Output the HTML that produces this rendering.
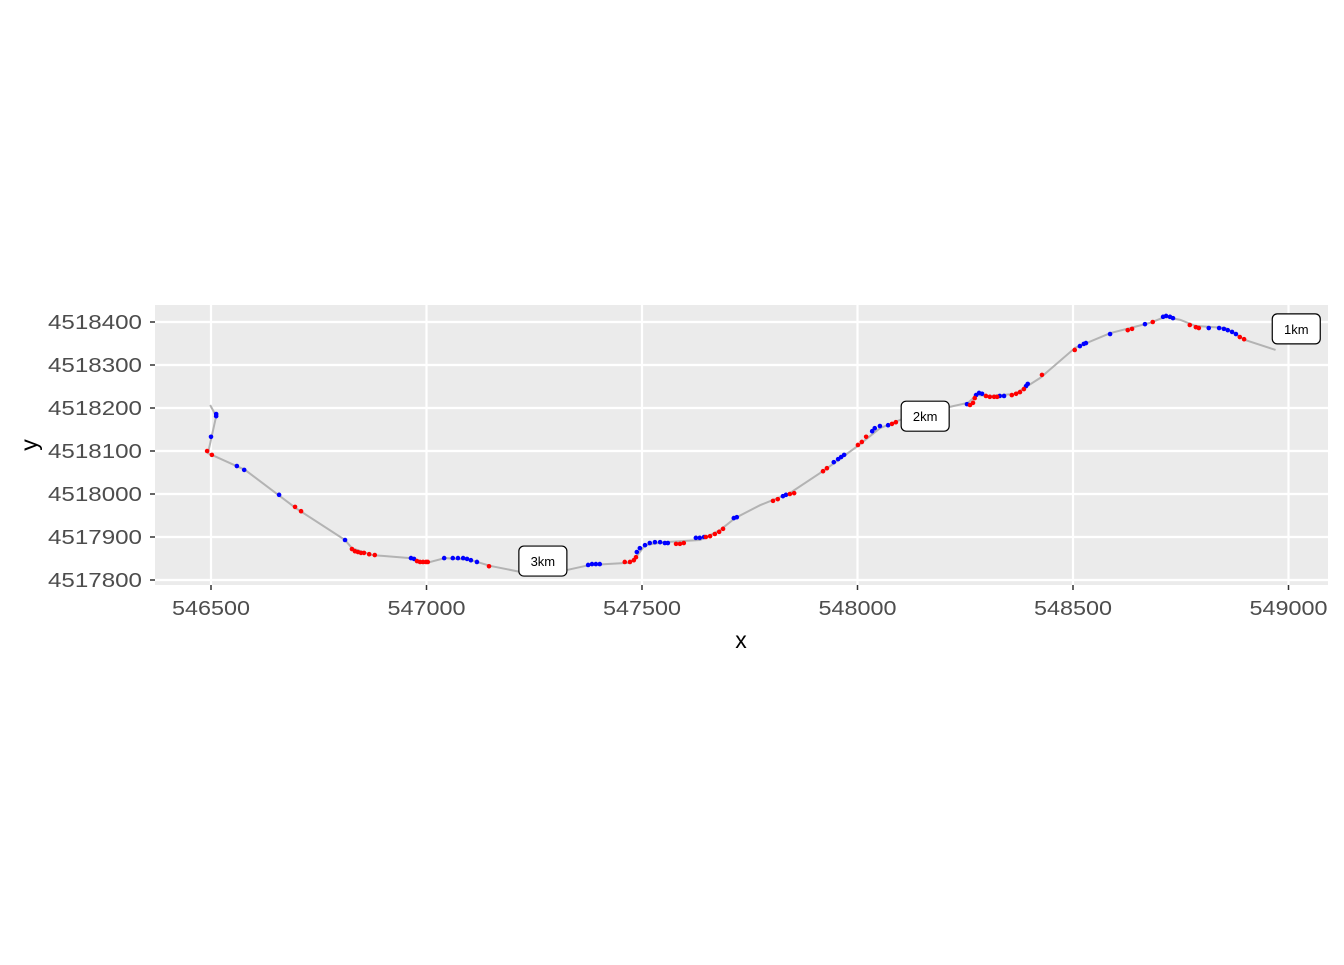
<!DOCTYPE html>
<html><head><meta charset="utf-8"><style>
body{margin:0;background:#fff;}
svg text{font-family:"Liberation Sans",Arial,sans-serif;}
</style></head><body>
<svg id="chart" width="1344" height="960" xmlns="http://www.w3.org/2000/svg">
<rect x="155" y="305" width="1173" height="280" fill="#ebebeb"/>
<g id="grid"></g><g id="track"></g><g id="pts"></g><g id="labels"></g><g id="axes"></g>
<text x="741" y="648" font-size="23" text-anchor="middle" fill="#000">x</text>
<text x="37" y="445" font-size="23" text-anchor="middle" fill="#000" transform="rotate(-90 37 445)">y</text>
</svg>
<script>
const xTicks=[546500,547000,547500,548000,548500,549000];
const yTicks=[4517800,4517900,4518000,4518100,4518200,4518300,4518400];
const trackX=[546498,546512,546493,546579,546697,546811,546827,546874,546962,547001,547043,547101,547147,547217,547275,547379,547472,547486,547507,547553,547635,547681,547716,547774,547843,547924,548001,548052,548110,548180,548256,548277,548307,548366,548424,548505,548586,548679,548714,548749,548784,548854,548900,548970];
const trackY=[4518207,4518181,4518095,4518056,4517967,4517893,4517874,4517858,4517851,4517840,4517851,4517847,4517833,4517819,4517812,4517835,4517840,4517853,4517881,4517888,4517893,4517916,4517944,4517974,4518002,4518056,4518112,4518153,4518177,4518195,4518212,4518230,4518228,4518233,4518270,4518340,4518374,4518398,4518412,4518405,4518391,4518386,4518358,4518335];
const blueX=[546512,546512,546500,546560,546577,546658,546811,546964,546971,547041,547061,547073,547085,547094,547103,547117,547375,547384,547393,547402,547488,547495,547507,547518,547530,547542,547553,547560,547625,547634,547644,547713,547720,547827,547834,547945,547955,547962,547969,548034,548040,548052,548071,548254,548275,548282,548289,548330,548340,548391,548395,548516,548525,548530,548586,548667,548709,548716,548725,548732,548815,548839,548850,548859,548869,548878];
const blueY=[4518181,4518186,4518133,4518065,4518056,4517998,4517893,4517851,4517849,4517851,4517851,4517851,4517851,4517849,4517846,4517842,4517835,4517837,4517837,4517837,4517865,4517874,4517881,4517886,4517888,4517888,4517886,4517886,4517898,4517898,4517900,4517944,4517946,4517995,4517998,4518074,4518081,4518086,4518091,4518146,4518153,4518158,4518160,4518209,4518230,4518235,4518233,4518228,4518228,4518251,4518256,4518344,4518349,4518351,4518372,4518395,4518412,4518414,4518412,4518409,4518386,4518386,4518384,4518381,4518377,4518372];
const redX=[546491,546502,546695,546709,546827,546834,546841,546848,546855,546867,546880,546978,546985,546992,546999,547003,547145,547460,547472,547481,547486,547579,547588,547597,547648,547658,547669,547679,547688,547804,547815,547843,547853,547920,547929,548001,548010,548020,548080,548089,548261,548268,548272,548298,548307,548317,548324,548358,548368,548377,548386,548428,548504,548627,548637,548685,548771,548785,548792,548887,548897];
const redY=[4518100,4518091,4517970,4517960,4517872,4517867,4517865,4517863,4517863,4517860,4517858,4517844,4517842,4517842,4517842,4517842,4517832,4517842,4517842,4517846,4517853,4517884,4517884,4517886,4517900,4517902,4517907,4517912,4517919,4517984,4517988,4518000,4518002,4518053,4518060,4518114,4518121,4518133,4518163,4518167,4518207,4518212,4518223,4518228,4518226,4518226,4518226,4518230,4518233,4518237,4518244,4518277,4518335,4518381,4518384,4518400,4518393,4518388,4518386,4518365,4518360];
const labelText=["3km","2km","1km"];
const labelX=[547270,548157,549018];
const labelY=[4517844,4518181,4518384];

const NS="http://www.w3.org/2000/svg";
const sx=v=>211+(v-546500)*0.431;
const sy=v=>322+(4518400-v)*0.43;
function mk(tag,attrs,parent){const e=document.createElementNS(NS,tag);for(const k in attrs)e.setAttribute(k,attrs[k]);document.getElementById(parent).appendChild(e);return e;}
xTicks.forEach(t=>{
  const l=mk('line',{x1:sx(t),x2:sx(t),y1:305,y2:585,stroke:'#fff','stroke-width':2.2},'grid');
  
  
  const k=mk('line',{x1:sx(t),x2:sx(t),y1:585,y2:590,stroke:'#333','stroke-width':1.5},'axes');
  
  
  const tx=mk('text',{x:sx(t),y:615,'font-size':20,'text-anchor':'middle',fill:'#4d4d4d',textLength:78,lengthAdjust:'spacingAndGlyphs'},'axes');
  tx.textContent=t;
  
  
});
yTicks.forEach(t=>{
  const l=mk('line',{x1:155,x2:1328,y1:sy(t),y2:sy(t),stroke:'#fff','stroke-width':2.2},'grid');
  
  
  const k=mk('line',{x1:150,x2:155,y1:sy(t),y2:sy(t),stroke:'#333','stroke-width':1.5},'axes');
  
  
  const tx=mk('text',{x:142,y:sy(t)+7,'font-size':20,'text-anchor':'end',fill:'#4d4d4d',textLength:94,lengthAdjust:'spacingAndGlyphs'},'axes');
  tx.textContent=t;
  
  
});
const path=mk('polyline',{points:trackX.map((x,i)=>sx(x)+','+sy(trackY[i])).join(' '),fill:'none',stroke:'#b3b3b3','stroke-width':2},'track');


blueX.forEach((x,i)=>{
  const c=mk('circle',{cx:sx(x),cy:sy(blueY[i]),r:2.3,fill:'#0000ff'},'pts');
  
  
});
redX.forEach((x,i)=>{
  const c=mk('circle',{cx:sx(x),cy:sy(redY[i]),r:2.3,fill:'#ff0000'},'pts');
  
  
});
labelText.forEach((s,i)=>{
  const cx=sx(labelX[i]),cy=sy(labelY[i]);
  const r=mk('rect',{x:cx-24,y:cy-15,width:48,height:30,rx:5,fill:'#fff',stroke:'#000','stroke-width':1.2},'labels');
  
  
  const t=mk('text',{x:cx,y:cy+5,'font-size':13,'text-anchor':'middle',fill:'#000'},'labels');
  t.textContent=s;
  
  
});
</script>
</body></html>
